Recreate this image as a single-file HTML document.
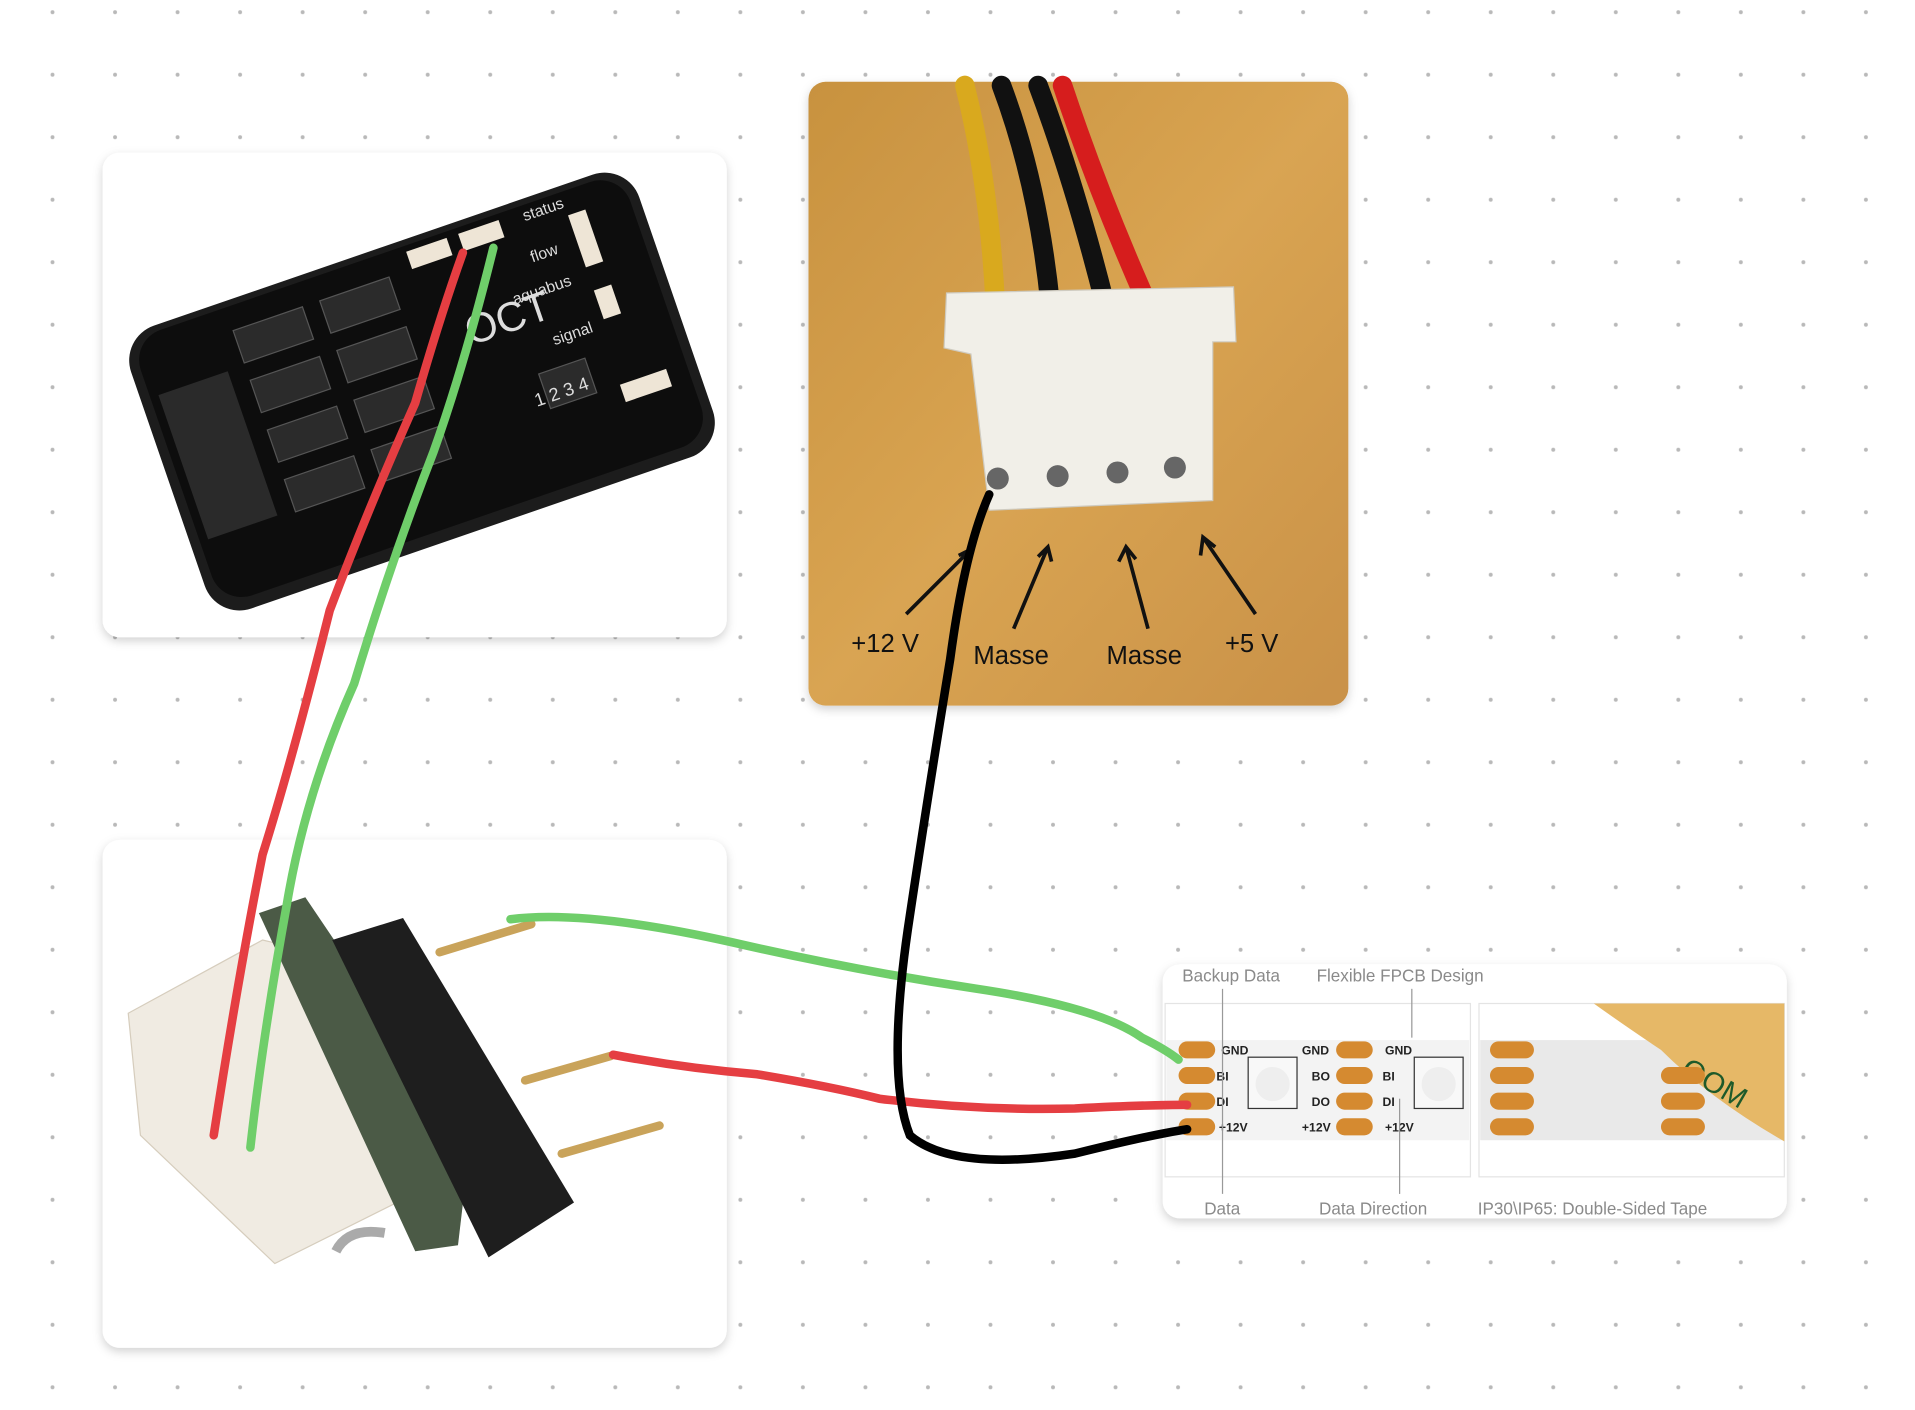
<!DOCTYPE html>
<html><head><meta charset="utf-8"><style>
html,body{margin:0;padding:0;background:#fff;width:1915px;height:1410px;overflow:hidden}
svg{display:block}
text{font-family:"Liberation Sans",sans-serif}
</style></head><body>
<svg width="1915" height="1410" viewBox="0 0 1568 1155" preserveAspectRatio="none" xmlns="http://www.w3.org/2000/svg">
<defs>
<pattern id="dots" x="43" y="10" width="51.2" height="51.2" patternUnits="userSpaceOnUse"><circle cx="0" cy="0" r="1.6" fill="#b9b9b9"/><circle cx="51.2" cy="0" r="1.6" fill="#b9b9b9"/><circle cx="0" cy="51.2" r="1.6" fill="#b9b9b9"/><circle cx="51.2" cy="51.2" r="1.6" fill="#b9b9b9"/></pattern>
<filter id="sh" x="-10%" y="-10%" width="120%" height="120%"><feDropShadow dx="0" dy="3" stdDeviation="4" flood-color="#000" flood-opacity="0.18"/></filter>
<linearGradient id="wood" x1="0" y1="0" x2="1" y2="1"><stop offset="0" stop-color="#c8923f"/><stop offset="0.5" stop-color="#d9a452"/><stop offset="1" stop-color="#c99148"/></linearGradient>
</defs>
<rect width="1568" height="1155" fill="url(#dots)"/>

<rect x="84" y="125" width="511" height="397" rx="14" fill="#fff" filter="url(#sh)"/>
<g transform="rotate(-19 340 320)">
<rect x="125" y="200" width="440" height="245" rx="30" fill="#1c1c1c"/>
<rect x="133" y="205" width="424" height="230" rx="26" fill="#0d0d0d"/>
<rect x="140" y="255" width="60" height="125" fill="#2a2a2a"/>
<g fill="#2b2b2b" stroke="#555" stroke-width="1">
<rect x="215" y="225" width="60" height="28"/><rect x="290" y="225" width="60" height="28"/>
<rect x="215" y="268" width="60" height="28"/><rect x="290" y="268" width="60" height="28"/>
<rect x="215" y="311" width="60" height="28"/><rect x="290" y="311" width="60" height="28"/>
<rect x="215" y="354" width="60" height="28"/><rect x="290" y="354" width="60" height="28"/>
<rect x="440" y="340" width="40" height="30"/>
</g>
<g fill="#eee5d6"><rect x="370" y="210" width="35" height="15"/><rect x="415" y="210" width="35" height="15"/><rect x="505" y="225" width="15" height="45"/><rect x="505" y="290" width="15" height="25"/><rect x="500" y="370" width="40" height="15"/></g>
<text x="395" y="300" fill="#ddd" font-size="34">OCT</text>
<text x="470" y="218" fill="#ddd" font-size="13">status</text>
<text x="465" y="252" fill="#ddd" font-size="13">flow</text>
<text x="440" y="280" fill="#ddd" font-size="13">aquabus</text>
<text x="460" y="322" fill="#ddd" font-size="13">signal</text>
<text x="430" y="365" fill="#ddd" font-size="15">1 2 3 4</text>
</g>

<rect x="84" y="688" width="511" height="416" rx="14" fill="#fff" filter="url(#sh)"/>
<g>
<polygon points="105,830 215,770 300,790 335,980 225,1035 115,930" fill="#f0ebe2" stroke="#d6cdbd"/>
<polygon points="212,748 250,735 385,935 375,1020 340,1025" fill="#4b5a46"/>
<polygon points="272,770 330,752 470,985 400,1030" fill="#1e1e1e"/>
<g stroke="#c9a35a" stroke-width="7" stroke-linecap="round"><line x1="360" y1="780" x2="435" y2="757"/><line x1="430" y1="885" x2="500" y2="865"/><line x1="460" y1="945" x2="540" y2="922"/></g>
<path d="M275 1025 Q285 1005 315 1010" stroke="#aaa" stroke-width="8" fill="none"/>
</g>

<rect x="662" y="67" width="442" height="511" rx="14" fill="url(#wood)" filter="url(#sh)"/>
<g stroke-width="16" fill="none" stroke-linecap="round">
<path d="M790 70 Q810 150 815 250" stroke="#d9a91e"/>
<path d="M820 70 Q850 150 860 250" stroke="#111"/>
<path d="M850 70 Q880 150 905 250" stroke="#111"/>
<path d="M870 70 Q900 160 940 250" stroke="#d61d1d"/>
</g>
<polygon points="775,240 1010,235 1012,280 993,280 993,410 810,418 795,290 773,285" fill="#f1efe8" stroke="#cfcbc0"/>
<g fill="#666"><circle cx="817" cy="392" r="9"/><circle cx="866" cy="390" r="9"/><circle cx="915" cy="387" r="9"/><circle cx="962" cy="383" r="9"/></g>
<g stroke="#111" stroke-width="3" fill="none"><path d="M742 503 L795 450 M785 455 L795 450 L790 462"/><path d="M830 515 L858 448 M850 456 L858 448 L861 460"/><path d="M940 515 L922 448 M916 460 L922 448 L930 458"/><path d="M1028 503 L985 440 M983 455 L985 440 L995 448"/></g>
<g font-size="21" fill="#111"><text x="697" y="534">+12 V</text><text x="797" y="544">Masse</text><text x="906" y="544">Masse</text><text x="1003" y="534">+5 V</text></g>

<rect x="952" y="790" width="511" height="208" rx="14" fill="#fff" filter="url(#sh)"/>
<rect x="954" y="822" width="250" height="142" fill="none" stroke="#e4e4e4"/>
<rect x="1211" y="822" width="250" height="142" fill="none" stroke="#e4e4e4"/>
<rect x="955" y="852" width="248" height="82" fill="#f3f3f3"/>
<rect x="1212" y="852" width="249" height="82" fill="#e9e9e9"/>
<path d="M1305 822 L1461 822 L1461 935 Q1400 900 1360 860 Q1330 840 1305 822Z" fill="#e6b867"/>
<text x="1375" y="880" font-size="24" fill="#1e5a2a" font-family="Liberation Serif" transform="rotate(30 1375 880)">OOM</text>
<g fill="#d58a30">
<rect x="965" y="853" width="30" height="14" rx="7"/><rect x="965" y="874" width="30" height="14" rx="7"/><rect x="965" y="895" width="30" height="14" rx="7"/><rect x="965" y="916" width="30" height="14" rx="7"/>
<rect x="1094" y="853" width="30" height="14" rx="7"/><rect x="1094" y="874" width="30" height="14" rx="7"/><rect x="1094" y="895" width="30" height="14" rx="7"/><rect x="1094" y="916" width="30" height="14" rx="7"/>
<rect x="1220" y="853" width="36" height="14" rx="7"/><rect x="1220" y="874" width="36" height="14" rx="7"/><rect x="1220" y="895" width="36" height="14" rx="7"/><rect x="1220" y="916" width="36" height="14" rx="7"/>
<rect x="1360" y="874" width="36" height="14" rx="7"/><rect x="1360" y="895" width="36" height="14" rx="7"/><rect x="1360" y="916" width="36" height="14" rx="7"/>
</g>
<g font-family="Liberation Serif" font-size="10" fill="#222" font-weight="bold">
<text x="1000" y="864">GND</text><text x="996" y="885">BI</text><text x="996" y="906">DI</text><text x="998" y="927">+12V</text>
<text x="1066" y="864">GND</text><text x="1074" y="885">BO</text><text x="1074" y="906">DO</text><text x="1066" y="927">+12V</text>
<text x="1134" y="864">GND</text><text x="1132" y="885">BI</text><text x="1132" y="906">DI</text><text x="1134" y="927">+12V</text>
</g>
<rect x="1022" y="866" width="40" height="42" fill="#f8f8f8" stroke="#333"/><circle cx="1042" cy="888" r="14" fill="#eee"/>
<rect x="1158" y="866" width="40" height="42" fill="#f8f8f8" stroke="#333"/><circle cx="1178" cy="888" r="14" fill="#eee"/>
<g stroke="#999" stroke-width="1"><line x1="1001" y1="810" x2="1001" y2="978"/><line x1="1156" y1="810" x2="1156" y2="850"/><line x1="1146" y1="900" x2="1146" y2="978"/></g>
<g font-size="14" fill="#8a8a8a"><text x="968" y="804">Backup Data</text><text x="1078" y="804">Flexible FPCB Design</text><text x="986" y="995">Data</text><text x="1080" y="995">Data Direction</text><text x="1210" y="995">IP30\IP65: Double-Sided Tape</text></g>

<g fill="none" stroke-width="7" stroke-linecap="round">
<path d="M379 207 Q360 260 340 330 Q300 420 270 500 Q240 620 215 700 Q195 800 175 930" stroke="#e53e42"/>
<path d="M404 203 Q380 300 355 370 Q320 460 290 560 Q250 650 235 740 Q215 850 205 940" stroke="#6fce6a"/>
<path d="M418 753 Q480 745 600 772 Q700 795 800 810 Q900 825 935 850 Q955 860 965 868" stroke="#6fce6a"/>
<path d="M502 864 Q560 875 620 880 Q680 890 720 900 Q800 910 880 908 Q940 905 972 905" stroke="#e53e42"/>
<path d="M810 405 Q790 450 778 540 Q760 650 745 750 Q725 880 745 930 Q780 960 880 945 Q940 930 972 925" stroke="#000"/>
</g>
</svg>
</body></html>
